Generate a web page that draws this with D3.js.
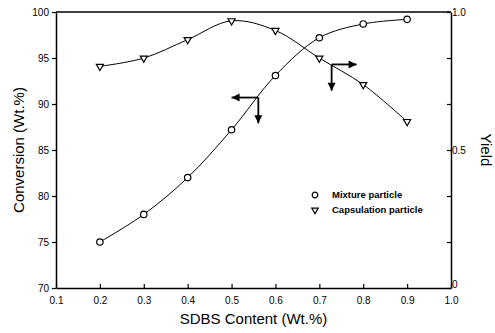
<!DOCTYPE html>
<html>
<head>
<meta charset="utf-8">
<script src="https://cdn.jsdelivr.net/npm/d3@7"></script>
<style>
    body { margin: 0; background: #fff; }
    svg { display: block; font-family: "Liberation Sans", Arial, sans-serif; }
</style>
</head>
<body>
<svg></svg>
<script>
// SDBS content (Wt.%)
var contents = [0.2, 0.3, 0.4, 0.5, 0.6, 0.7, 0.8, 0.9];
// mixture particle -> conversion (Wt.%), left axis
var mixture = [75, 78, 82, 87.2, 93.1, 97.2, 98.7, 99.2];
// capsulation particle -> yield, right axis
var capsulation = [0.803, 0.833, 0.9, 0.968, 0.933, 0.833, 0.737, 0.603];

var xTicks = [0.1, 0.2, 0.3, 0.4, 0.5, 0.6, 0.7, 0.8, 0.9, 1.0];
var convTicks = [70, 75, 80, 85, 90, 95, 100];
var yieldTicks = [0, 1/6, 2/6, 0.5, 4/6, 5/6, 1];
var yieldLabels = {"0": "0", "0.5": "0.5", "1": "1.0"};

// arrows: [x, y] of the corner, end x, end y (data units)
var convArrow = [0.561, 90.7, 0.50, 87.9];
var yieldArrow = [0.728, 0.81, 0.785, 0.715];

document.addEventListener("DOMContentLoaded", function() {

    var width = 495;
    var height = 333;
    var left = 56, right = 451, top = 12, bottom = 288;

    var svg = d3.select('svg')
                .attr('width', width)
                .attr('height', height);

    var xScale = d3.scaleLinear().domain([0.1, 1.0]).range([left, right]);
    var convScale = d3.scaleLinear().domain([70, 100]).range([bottom, top]);
    var yieldScale = d3.scaleLinear().domain([0, 1]).range([bottom, top]);

    // axes
    var xAxis = d3.axisBottom(xScale)
                  .tickValues(xTicks)
                  .tickSizeInner(-4)
                  .tickSizeOuter(0)
                  .tickPadding(9)
                  .tickFormat(d3.format(".1f"));
    var gx = svg.append("g")
        .attr("transform", `translate(0,${bottom})`)
        .call(xAxis);

    var leftAxis = d3.axisLeft(convScale)
                     .tickValues(convTicks)
                     .tickSizeInner(4)
                     .tickSizeOuter(0)
                     .tickPadding(3)
                     .tickFormat(d3.format("d"));
    var gl = svg.append("g")
        .attr("transform", `translate(${left},0)`)
        .call(leftAxis);

    var rightAxis = d3.axisRight(yieldScale)
                      .tickValues(yieldTicks)
                      .tickSizeInner(-4)
                      .tickSizeOuter(0)
                      .tickPadding(1)
                      .tickFormat(d => yieldLabels[String(+d.toFixed(3))] || "");
    var gr = svg.append("g")
        .attr("transform", `translate(${right},0)`)
        .call(rightAxis);

    [gx, gl, gr].forEach(function(g) {
        g.selectAll("path").attr("stroke", "#000").attr("stroke-width", 1.5);
        g.selectAll("line").attr("stroke", "#000").attr("stroke-width", 1.2);
        g.selectAll("text")
         .attr("fill", "#000")
         .style("font-size", "10px")
         .style("font-family", '"Liberation Sans", Arial, sans-serif');
    });
    gr.selectAll("text").filter(d => d === 0).attr("dy", "-0.1em");

    // top frame line
    svg.append("line")
        .attr("x1", left).attr("x2", right)
        .attr("y1", top).attr("y2", top)
        .attr("stroke", "#000").attr("stroke-width", 1.5);

    // axis titles
    svg.append("text")
        .attr("x", (left + right) / 2)
        .attr("y", 324)
        .attr("text-anchor", "middle")
        .style("font-size", "15px")
        .text("SDBS Content (Wt.%)");

    svg.append("text")
        .attr("transform", `translate(24,${(top + bottom) / 2}) rotate(-90)`)
        .attr("text-anchor", "middle")
        .style("font-size", "15px")
        .text("Conversion (Wt.%)");

    svg.append("text")
        .attr("transform", `translate(481,${(top + bottom) / 2}) rotate(90)`)
        .attr("text-anchor", "middle")
        .style("font-size", "15px")
        .text("Yield");

    // curves
    var convLine = d3.line()
        .x((d, i) => xScale(contents[i]))
        .y(d => convScale(d))
        .curve(d3.curveCatmullRom.alpha(0.5));
    var yieldLine = d3.line()
        .x((d, i) => xScale(contents[i]))
        .y(d => yieldScale(d))
        .curve(d3.curveCatmullRom.alpha(0.5));

    svg.append("path")
        .attr("d", convLine(mixture))
        .attr("fill", "none").attr("stroke", "#000").attr("stroke-width", 1);
    svg.append("path")
        .attr("d", yieldLine(capsulation))
        .attr("fill", "none").attr("stroke", "#000").attr("stroke-width", 1);

    // markers
    var tri = d3.symbol().type(d3.symbolTriangle).size(22);

    svg.selectAll("circle.mix")
      .data(mixture)
      .enter()
        .append("circle")
        .attr("class", "mix")
        .attr("cx", (d, i) => xScale(contents[i]))
        .attr("cy", d => convScale(d))
        .attr("r", 3.2)
        .attr("fill", "#fff")
        .attr("stroke", "#000")
        .attr("stroke-width", 1.2);

    svg.selectAll("path.cap")
      .data(capsulation)
      .enter()
        .append("path")
        .attr("class", "cap")
        .attr("d", tri)
        .attr("transform", (d, i) => `translate(${xScale(contents[i])},${yieldScale(d)}) rotate(180)`)
        .attr("fill", "#fff")
        .attr("stroke", "#000")
        .attr("stroke-width", 1.2);

    // arrows
    function arrow(x1, y1, x2, y2) {
        var ang = Math.atan2(y2 - y1, x2 - x1) * 180 / Math.PI;
        svg.append("line")
            .attr("x1", x1).attr("y1", y1)
            .attr("x2", x2).attr("y2", y2)
            .attr("stroke", "#000").attr("stroke-width", 1.8);
        svg.append("path")
            .attr("d", "M0,0 L-8,-4 L-8,4 Z")
            .attr("transform", `translate(${x2},${y2}) rotate(${ang})`)
            .attr("fill", "#000");
    }
    var ax = xScale(convArrow[0]), ay = convScale(convArrow[1]);
    arrow(ax, ay, xScale(convArrow[2]), ay);
    arrow(ax, ay, ax, convScale(convArrow[3]));

    var bx = xScale(yieldArrow[0]), by = yieldScale(yieldArrow[1]);
    arrow(bx, by, xScale(yieldArrow[2]), by);
    arrow(bx, by, bx, yieldScale(yieldArrow[3]));

    // legend
    var legend = svg.append("g").attr("transform", "translate(315,195)");
    legend.append("circle")
        .attr("r", 2.8).attr("fill", "#fff")
        .attr("stroke", "#000").attr("stroke-width", 1.2);
    legend.append("path")
        .attr("d", d3.symbol().type(d3.symbolTriangle).size(18))
        .attr("transform", "translate(0,15) rotate(180)")
        .attr("fill", "#fff").attr("stroke", "#000").attr("stroke-width", 1.2);
    legend.selectAll("text")
      .data(["Mixture particle", "Capsulation particle"])
      .enter()
        .append("text")
        .attr("x", 17)
        .attr("y", (d, i) => 3 + i * 15)
        .style("font-size", "9.5px")
        .style("font-weight", "bold")
        .text(d => d);
});
</script>
</body>
</html>
